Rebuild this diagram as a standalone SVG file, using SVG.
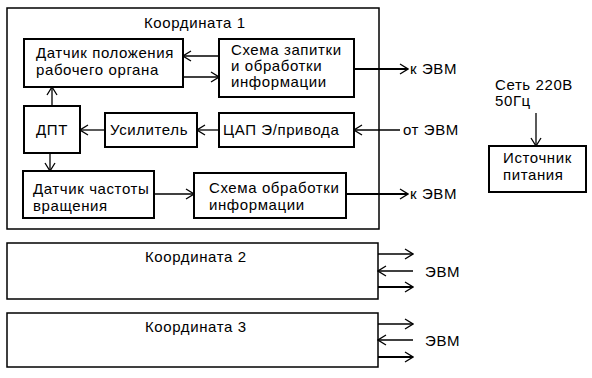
<svg xmlns="http://www.w3.org/2000/svg" width="592" height="378" viewBox="0 0 592 378">
<style>
text{font-family:"Liberation Sans",Arial,sans-serif;font-size:15px;fill:#000;letter-spacing:0.6px}
.outer{fill:#fff;stroke:#000;stroke-width:1.5}
.box{fill:#fff;stroke:#000;stroke-width:2}
.c{fill:none;stroke:#000;stroke-width:1.3;marker-end:url(#ah)}
.ct{fill:none;stroke:#000;stroke-width:2;marker-end:url(#ah)}
</style>
<defs>
<marker id="ah" markerUnits="userSpaceOnUse" viewBox="-9 -6 10 12" refX="0" refY="0" markerWidth="10" markerHeight="12" orient="auto">
<path d="M-8,-5 L0,0 L-8,5" fill="none" stroke="#000" stroke-width="1.3"/>
</marker>
</defs>
<rect width="592" height="378" fill="#fff"/>
<g id="coord1">
<rect class="outer" x="7" y="8" width="372" height="221"/>
<text x="144" y="28">Координата 1</text>
</g>
<g id="sensor-position">
<rect class="box" x="24" y="39" width="159" height="48"/>
<text x="36" y="58">Датчик положения</text>
<text x="36" y="75">рабочего органа</text>
</g>
<g id="latch-scheme">
<rect class="box" x="219" y="39" width="135" height="58"/>
<text x="231" y="55">Схема запитки</text>
<text x="231" y="71">и обработки</text>
<text x="231" y="87">информации</text>
</g>
<g id="dpt">
<rect class="box" x="24" y="106" width="56" height="47"/>
<text x="36" y="135">ДПТ</text>
</g>
<g id="amplifier">
<rect class="box" x="105" y="113" width="92" height="34"/>
<text x="110" y="135">Усилитель</text>
</g>
<g id="dac">
<rect class="box" x="219" y="113" width="135" height="34"/>
<text x="223" y="135">ЦАП Э/привода</text>
</g>
<g id="sensor-speed">
<rect class="box" x="23" y="171" width="131" height="47"/>
<text x="33" y="194">Датчик частоты</text>
<text x="33" y="211">вращения</text>
</g>
<g id="proc-scheme">
<rect class="box" x="194" y="173" width="152" height="45"/>
<text x="209" y="193">Схема обработки</text>
<text x="209" y="210">информации</text>
</g>
<g id="power">
<rect class="box" x="489" y="146" width="97" height="46"/>
<text x="503" y="163">Источник</text>
<text x="503" y="180">питания</text>
</g>
<g id="coord2">
<rect class="outer" x="7" y="243" width="371" height="56"/>
<text x="145" y="262">Координата 2</text>
</g>
<g id="coord3">
<rect class="outer" x="7" y="313" width="371" height="54"/>
<text x="145" y="332">Координата 3</text>
</g>
<g id="labels">
<text x="410" y="74">к ЭВМ</text>
<text x="403" y="135">от ЭВМ</text>
<text x="410" y="199">к ЭВМ</text>
<text x="495" y="90">Сеть 220В</text>
<text x="495" y="106">50Гц</text>
<text x="425" y="277">ЭВМ</text>
<text x="425" y="346">ЭВМ</text>
</g>
<g id="connectors">
<path class="c" d="M219,56 H183"/>
<path class="c" d="M183,77 H219"/>
<path class="c" d="M52,106 V87"/>
<path class="c" d="M50,153 V171"/>
<path class="c" d="M105,130 H80"/>
<path class="c" d="M219,130 H197"/>
<path class="c" d="M400,130 H354"/>
<path class="c" d="M154,194 H194"/>
<path class="ct" d="M354,69 H408"/>
<path class="ct" d="M346,194 H408"/>
<path class="c" d="M536,113 V146"/>
<path class="c" d="M378,254 H413"/>
<path class="c" d="M413,271 H378"/>
<path class="ct" d="M378,287 H413"/>
<path class="c" d="M378,324 H413"/>
<path class="c" d="M413,340 H378"/>
<path class="ct" d="M378,357 H413"/>
</g>
</svg>
